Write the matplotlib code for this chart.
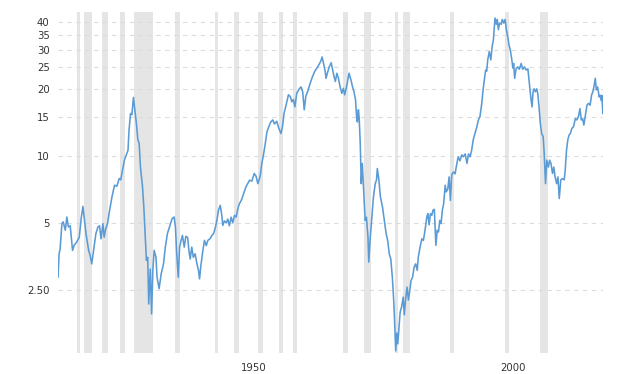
import matplotlib
matplotlib.use('Agg')
import matplotlib.pyplot as plt
from matplotlib.ticker import FixedLocator, NullLocator

# ratio (log scale)
years = [
  1914.9, 1915.1, 1915.3, 1915.65, 1915.9, 1916.3, 1916.6, 1916.9, 1917.25, 1917.7,
  1918.0, 1918.5, 1919.0, 1919.4, 1919.7, 1920.0, 1920.3, 1920.8, 1921.1, 1921.4,
  1921.75, 1922.2, 1922.6, 1922.9, 1923.2, 1923.55, 1923.8, 1924.1, 1924.45, 1924.8,
  1925.3, 1925.8, 1926.25, 1926.7, 1927.0, 1927.4, 1927.7, 1928.05, 1928.4, 1928.6,
  1928.9, 1929.15, 1929.45, 1929.8, 1930.05, 1930.3, 1930.55, 1930.8, 1931.2, 1931.45,
  1931.7, 1931.95, 1932.2, 1932.4, 1932.7, 1932.95, 1933.2, 1933.45, 1933.8, 1934.0,
  1934.4, 1934.8, 1935.25, 1935.6, 1936.0, 1936.4, 1936.9, 1937.3, 1937.55, 1937.8,
  1938.1, 1938.35, 1938.65, 1938.9, 1939.25, 1939.55, 1939.9, 1940.15, 1940.4, 1940.7,
  1941.0, 1941.35, 1941.7, 1942.0, 1942.2, 1942.45, 1942.85, 1943.15, 1943.5, 1943.8,
  1944.25, 1944.6, 1944.9, 1945.2, 1945.55, 1945.85, 1946.2, 1946.45, 1946.7, 1947.0,
  1947.35, 1947.65, 1947.95, 1948.3, 1948.6, 1948.95, 1949.25, 1949.6, 1949.9, 1950.25,
  1950.7, 1951.15, 1951.5, 1951.85, 1952.3, 1952.75, 1953.1, 1953.45, 1953.9, 1954.2,
  1954.5, 1954.85, 1955.2, 1955.55, 1955.95, 1956.35, 1956.65, 1957.1, 1957.5, 1957.9,
  1958.2, 1958.5, 1958.9, 1959.35, 1959.7, 1960.0, 1960.3, 1960.6, 1960.95, 1961.5,
  1961.8, 1962.1, 1962.4, 1962.7, 1963.1, 1963.55, 1964.0, 1964.4, 1964.85, 1965.2,
  1965.55, 1965.85, 1966.1, 1966.45, 1966.6, 1966.95, 1967.25, 1967.6, 1967.85, 1968.15,
  1968.4, 1968.7, 1969.0, 1969.3, 1969.65, 1969.95, 1970.2, 1970.5, 1970.75, 1971.05,
  1971.4, 1971.7, 1972.0, 1972.3, 1972.5, 1972.65, 1972.85, 1973.0, 1973.2, 1973.4,
  1973.6, 1973.9, 1974.15, 1974.4, 1974.7, 1974.85, 1975.1, 1975.45, 1975.75, 1976.1,
  1976.35, 1976.5, 1976.8, 1977.1, 1977.5, 1977.85, 1978.2, 1978.5, 1978.8, 1979.1,
  1979.4, 1979.7, 1979.9, 1980.05, 1980.25, 1980.45, 1980.6, 1980.9, 1981.2, 1981.5,
  1981.7, 1982.0, 1982.25, 1982.5, 1982.75, 1983.0, 1983.3, 1983.6, 1983.9, 1984.2,
  1984.4, 1984.75, 1985.1, 1985.4, 1985.7, 1986.05, 1986.25, 1986.5, 1986.75, 1987.0,
  1987.25, 1987.5, 1987.8, 1988.05, 1988.3, 1988.55, 1988.8, 1989.05, 1989.3, 1989.6,
  1989.8, 1990.1, 1990.35, 1990.6, 1990.85, 1991.2, 1991.5, 1991.8, 1992.1, 1992.45,
  1992.8, 1993.1, 1993.45, 1993.8, 1994.1, 1994.4, 1994.7, 1995.0, 1995.35, 1995.7,
  1996.0, 1996.3, 1996.65, 1996.9, 1997.15, 1997.4, 1997.6, 1997.8, 1998.1, 1998.4,
  1998.65, 1998.9, 1999.2, 1999.45, 1999.65, 1999.85, 2000.1, 2000.4, 2000.6, 2000.9,
  2001.15, 2001.4, 2001.65, 2001.9, 2002.15, 2002.45, 2002.65, 2002.8, 2003.0, 2003.25,
  2003.6, 2003.9, 2004.25, 2004.55, 2004.9, 2005.2, 2005.55, 2005.8, 2006.1, 2006.35,
  2006.55, 2006.75, 2007.0, 2007.25, 2007.45, 2007.7, 2007.95, 2008.2, 2008.5, 2008.7,
  2008.95, 2009.2, 2009.5, 2009.75, 2010.0, 2010.3, 2010.55, 2010.8, 2011.1, 2011.35,
  2011.6, 2011.9, 2012.2, 2012.55, 2012.75, 2013.0, 2013.25, 2013.5, 2013.75, 2014.05,
  2014.35, 2014.7, 2015.0, 2015.3, 2015.6, 2015.85, 2016.1, 2016.35, 2016.6, 2016.95,
  2017.25, 2017.55, 2017.85, 2018.1, 2018.35, 2018.55, 2018.75, 2019.0, 2019.3, 2019.5,
  2019.7, 2019.85, 2020.0,
]
ratio = [
  2.85, 3.63, 3.8, 4.96, 5.05, 4.63, 5.31, 4.79, 4.85, 3.76,
  3.96, 4.1, 4.31, 5.31, 5.93, 5.13, 4.47, 3.76, 3.57, 3.27,
  3.76, 4.47, 4.79, 4.85, 4.24, 4.96, 4.31, 4.71, 4.96, 5.6,
  6.53, 7.38, 7.3, 7.91, 7.8, 8.77, 9.56, 10.07, 10.6, 13.1,
  15.5, 15.3, 18.3, 15.5, 13.75, 11.8, 11.4, 8.9, 7.25, 5.9,
  4.47, 3.39, 3.5, 2.16, 3.1, 1.95, 3.1, 3.76, 3.5, 2.85,
  2.53, 2.95, 3.27, 3.89, 4.47, 4.79, 5.22, 5.31, 4.79, 3.63,
  2.85, 3.89, 4.17, 4.39, 3.89, 4.35, 4.3, 3.76, 3.44, 3.89,
  3.5, 3.63, 3.27, 3.06, 2.8, 3.2, 3.76, 4.17, 3.95, 4.17,
  4.25, 4.39, 4.47, 4.71, 5.13, 5.69, 5.99, 5.5, 4.87, 5.1,
  5.0, 5.2, 4.85, 5.3, 5.0, 5.4, 5.3, 5.8, 6.1, 6.3,
  6.77, 7.25, 7.5, 7.77, 7.7, 8.33, 8.1, 7.5, 8.1, 9.2,
  10.0, 11.2, 12.8, 13.5, 14.2, 14.5, 13.9, 14.3, 13.3, 12.6,
  13.5, 15.5, 16.9, 18.8, 18.5, 17.5, 17.9, 16.6, 19.1, 20.1,
  20.4, 19.4, 16.1, 18.5, 19.6, 21.2, 22.7, 23.9, 24.8, 25.6,
  26.5, 27.8, 26.2, 23.9, 22.3, 23.9, 25.2, 26.2, 24.5, 22.7,
  21.6, 23.5, 22.3, 20.5, 19.1, 20.1, 18.8, 20.1, 21.6, 23.5,
  22.0, 20.5, 19.4, 17.8, 15.0, 14.2, 16.1, 14.8, 11.5, 7.5,
  9.25, 6.77, 5.13, 5.3, 4.31, 3.33, 4.17, 5.3, 6.53, 7.5,
  7.8, 8.77, 7.8, 6.53, 5.89, 5.13, 4.47, 4.17, 3.63, 3.44,
  2.85, 2.16, 1.64, 1.33, 1.6, 1.43, 1.6, 1.98, 2.1, 2.32,
  1.93, 2.32, 2.57, 2.25, 2.47, 2.75, 2.85, 3.16, 3.27, 3.06,
  3.5, 3.89, 4.24, 4.17, 4.63, 5.31, 5.5, 4.9, 5.5, 5.4,
  5.7, 5.75, 3.96, 4.63, 4.55, 5.13, 4.96, 5.7, 6.1, 7.38,
  6.89, 7.1, 8.04, 6.3, 8.2, 8.47, 8.3, 9.1, 9.9, 9.5,
  10.1, 9.9, 10.2, 9.25, 10.2, 9.9, 10.6, 11.8, 12.6, 13.5,
  14.5, 15.0, 17.2, 19.8, 21.9, 24.3, 24.0, 27.0, 29.4, 27.0,
  31.0, 33.2, 41.6, 39.0, 41.0, 36.9, 39.5, 39.0, 41.0, 39.5,
  41.0, 36.9, 34.4, 31.5, 30.0, 27.0, 24.8, 26.0, 22.3, 24.5,
  25.1, 24.5, 26.0, 24.5, 25.1, 24.3, 24.6, 21.6, 18.4, 16.6,
  19.4, 20.0, 19.4, 20.0, 19.1, 16.6, 14.0, 12.6, 12.2, 10.25,
  7.5, 9.56, 8.9, 9.56, 9.25, 8.33, 8.9, 8.04, 7.5, 8.04,
  6.43, 7.8, 7.9, 7.8, 8.6, 10.6, 11.8, 12.4, 12.6, 13.3,
  13.5, 14.7, 14.5, 15.0, 16.3, 14.5, 14.7, 13.75, 15.0, 16.9,
  17.2, 16.9, 18.8, 19.4, 20.8, 22.3, 19.8, 20.4, 18.4, 18.7,
  17.7, 18.7, 15.5,
]

# US recessions (NBER), fractional years
rec_start = [1918.6, 1920.0, 1923.4, 1926.8, 1929.6, 1937.4, 1945.1, 1948.9, 1953.5,
             1957.6, 1960.3, 1969.9, 1973.9, 1980.0, 1981.5, 1990.5, 2001.2, 2007.9]
rec_end = [1919.2, 1921.5, 1924.5, 1927.9, 1933.2, 1938.5, 1945.8, 1949.8, 1954.4,
           1958.3, 1961.1, 1970.9, 1975.2, 1980.5, 1982.9, 1991.2, 2001.9, 2009.5]

ytick_vals = [2.5, 5, 10, 15, 20, 25, 30, 35, 40]
ytick_labels = ['2.50', '5', '10', '15', '20', '25', '30', '35', '40']
xtick_labels = ['1950', '2000']
xtick_pos = [1952.6, 2002.6]   # labels sit centred in their 5-year cell


fig = plt.figure(figsize=(6.24, 3.74), dpi=100)
ax = fig.add_axes([0.093, 0.056, 0.873, 0.912])

for start, end in zip(rec_start, rec_end):
  ax.axvspan(start, end, color='#e5e5e5', lw=0, zorder=1)

ax.plot(years, ratio, color='#5b9bd5', lw=1.15, zorder=3)

ax.set_yscale('log')
ax.set_ylim(1.3, 44.3)
ax.set_xlim(1914.9, 2020.0)

ax.yaxis.set_major_locator(FixedLocator(ytick_vals))
ax.yaxis.set_minor_locator(NullLocator())
ax.set_yticklabels(ytick_labels)
ax.set_xticks(xtick_pos)
ax.set_xticklabels(xtick_labels)

ax.set_axisbelow('line')
ax.yaxis.grid(True, color='#dcdcdc', lw=0.8, ls=(0, (4, 4)))
ax.xaxis.grid(False)
ax.tick_params(length=0, labelsize=7.3, labelcolor='#333333')
ax.tick_params(axis='y', pad=6)
ax.tick_params(axis='x', pad=7)
for spine in ax.spines.values():
  spine.set_visible(False)

fig.savefig('out.png', dpi=100)
